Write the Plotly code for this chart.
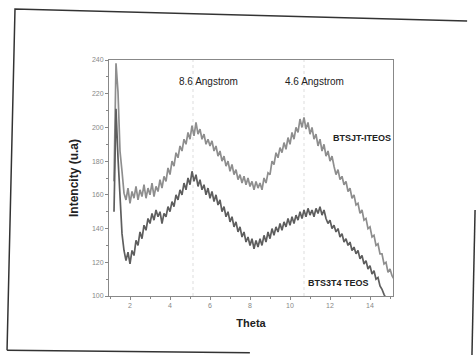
import plotly.graph_objects as go

# sampling grid of theta (step 0.1 from 1.2 to 15.2)
theta = [round(1.2 + 0.1 * i, 1) for i in range(141)]

upper_name = "BTSJT-ITEOS"
upper = [168, 238, 221, 186, 174, 161, 157, 164, 155, 162,
         158, 165, 157, 163, 159, 166, 158, 164, 160, 167,
         159, 165, 162, 169, 164, 171, 168, 176, 172, 180,
         177, 185, 182, 189, 186, 193, 190, 197, 193, 201,
         195, 203, 196, 199, 193, 196, 190, 193, 189, 192,
         186, 189, 183, 186, 180, 183, 177, 180, 174, 178,
         172, 175, 169, 172, 167, 171, 166, 170, 165, 168,
         163, 168, 164, 167, 163, 170, 167, 173, 172, 180,
         178, 185, 182, 188, 185, 191, 187, 194, 190, 197,
         193, 200, 197, 205, 200, 206, 199, 203, 196, 200,
         193, 196, 189, 193, 186, 190, 183, 186, 180, 183,
         177, 172, 175, 169, 171, 166, 168, 162, 164, 158,
         160, 154, 155, 149, 151, 145, 146, 140, 141, 135,
         136, 130, 131, 125, 125, 119, 120, 114, 116, 112,
         110]

lower_name = "BTS3T4 TEOS"
lower = [150, 211, 182, 156, 137, 127, 121, 126, 119, 127,
         124, 133, 130, 138, 134, 142, 139, 146, 143, 149,
         145, 151, 147, 150, 143, 149, 147, 153, 150, 156,
         153, 160, 157, 163, 160, 167, 163, 170, 166, 174,
         168, 172, 165, 169, 163, 166, 160, 164, 158, 162,
         156, 160, 154, 157, 150, 153, 147, 150, 144, 147,
         141, 144, 138, 141, 135, 138, 132, 135, 130, 134,
         128, 133, 129, 134, 130, 136, 132, 138, 134, 140,
         136, 141, 138, 143, 139, 144, 141, 146, 142, 147,
         143, 148, 145, 150, 146, 151, 147, 152, 148, 151,
         147, 152, 149, 153, 148, 151, 146, 143, 145, 140,
         142, 138, 140, 135, 137, 132, 134, 130, 132, 127,
         129, 125, 127, 122, 124, 119, 121, 116, 118, 113,
         115, 110, 111, 106, 104, 101, 98, 96, 94, 93,
         92]

peak_positions = [5.15, 10.7]
peak_labels = ["8.6 Angstrom", "4.6 Angstrom"]

x_ticks = [2, 4, 6, 8, 10, 12, 14]
y_ticks = [100, 120, 140, 160, 180, 200, 220, 240]

fig = go.Figure()
fig.add_trace(go.Scatter(x=theta, y=upper, mode="lines", name=upper_name,
                         line=dict(color="#8e8e8e", width=1.7), showlegend=False))
fig.add_trace(go.Scatter(x=theta, y=lower, mode="lines", name=lower_name,
                         line=dict(color="#5e5e5e", width=1.7), showlegend=False))

for xp in peak_positions:
    fig.add_shape(type="line", xref="x", yref="y", x0=xp, x1=xp, y0=100, y1=240,
                  line=dict(color="#dddddd", width=1, dash="dot"), layer="below")

narrow = "Liberation Sans Narrow, Liberation Sans, Arial"
label_font = dict(family=narrow, size=10, color="#222")
fig.add_annotation(x=5.9, y=227, text=peak_labels[0], showarrow=False, font=label_font)
fig.add_annotation(x=11.2, y=227, text=peak_labels[1], showarrow=False, font=label_font)
fig.add_annotation(x=13.6, y=194, text="<b>" + upper_name + "</b>", showarrow=False,
                   font=dict(family=narrow, size=9, color="#222"))
fig.add_annotation(x=12.4, y=108, text="<b>" + lower_name + "</b>", showarrow=False,
                   font=dict(family=narrow, size=9, color="#222"))

# outer page frame (photographed sheet)
frame_col = "#333333"
fig.add_shape(type="path", xref="paper", yref="paper",
              path="M -0.359,-0.23 L -0.331,1.216 L 1.261,1.165",
              line=dict(color=frame_col, width=1.5))
fig.add_shape(type="line", xref="paper", yref="paper", x0=-0.359, y0=-0.23, x1=0.496, y1=-0.24,
              line=dict(color=frame_col, width=1.5))
fig.add_shape(type="line", xref="paper", yref="paper", x0=1.289, y0=0.364, x1=1.278, y1=-0.25,
              line=dict(color=frame_col, width=1.5))

axis_common = dict(showgrid=False, zeroline=False, showline=True, linecolor="#888",
                   linewidth=1, mirror=True, ticks="outside", ticklen=3, tickcolor="#888",
                   automargin=False,
                   tickfont=dict(family="Liberation Sans, Arial", size=7, color="#888"))

fig.update_xaxes(range=[0.95, 15.15], tickvals=x_ticks,
                 minor=dict(ticks="outside", ticklen=2, tickcolor="#888", dtick=1),
                 title=dict(text="<b>Theta</b>", standoff=10,
                            font=dict(family=narrow, size=11, color="#222")),
                 **axis_common)
fig.update_yaxes(range=[100, 240], tickvals=y_ticks,
                 minor=dict(ticks="outside", ticklen=2, tickcolor="#888", dtick=10),
                 title=dict(text="<b>Intencity (u.a)</b>", standoff=10,
                            font=dict(family=narrow, size=12, color="#222")),
                 **axis_common)

fig.update_layout(width=476, height=356, margin=dict(l=109, r=83, t=60, b=60),
                  paper_bgcolor="white", plot_bgcolor="white")

fig.write_html("out.html", config={"displayModeBar": False},
               post_script="document.body.style.margin='0';")
